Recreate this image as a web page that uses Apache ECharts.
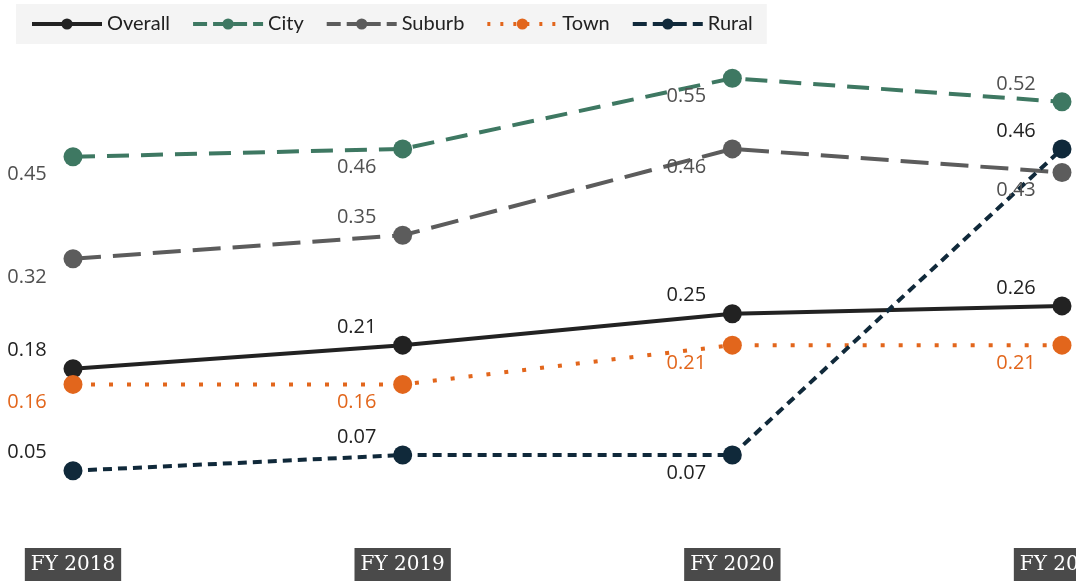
<!DOCTYPE html>
<html>
<head>
<meta charset="utf-8">
<script src="https://cdn.jsdelivr.net/npm/echarts@6/dist/echarts.min.js"></script>
<style>
  html, body { margin: 0; padding: 0; background: #fff; }
  #chart { width: 1076px; height: 582px; }
</style>
</head>
<body>
<div id="chart"></div>
<script>
// data
const years = ["FY 2018", "FY 2019", "FY 2020", "FY 2021"];
const overall = [0.18, 0.21, 0.25, 0.26];
const city = [0.45, 0.46, 0.55, 0.52];
const suburb = [0.32, 0.35, 0.46, 0.43];
const town = [0.16, 0.16, 0.21, 0.21];
const rural = [0.05, 0.07, 0.07, 0.46];

// label above (-1) or below (1) each point
const labelSide = {
  Overall: [-1, -1, -1, -1],
  City: [1, 1, 1, -1],
  Suburb: [1, -1, 1, 1],
  Town: [1, 1, 1, 1],
  Rural: [-1, -1, 1, -1]
};

const styles = {
  Overall: { color: "#222222", label: "#222222", dash: "solid" },
  City: { color: "#3e7862", label: "#505050", dash: [22, 12] },
  Suburb: { color: "#5c5c5c", label: "#505050", dash: [28, 12] },
  Town: { color: "#e2661c", label: "#e2661c", dash: [4, 14] },
  Rural: { color: "#10293a", label: "#222222", dash: [9, 6] }
};

const chart = echarts.init(document.getElementById("chart"));

const makeSeries = (name, values) => ({
  name: name,
  type: "line",
  data: values.map((v, i) => ({
    value: v,
    label: { offset: [-46, labelSide[name][i] * 18] }
  })),
  symbol: "circle",
  symbolSize: 19,
  itemStyle: { color: styles[name].color },
  lineStyle: { color: styles[name].color, width: 4, type: styles[name].dash },
  label: {
    show: true,
    position: "inside",
    color: styles[name].label,
    fontFamily: "Open Sans",
    fontSize: 20,
    formatter: p => p.value.toFixed(2)
  },
  emphasis: { disabled: true }
});

const names = ["Overall", "City", "Suburb", "Town", "Rural"];

const option = {
  animation: false,
  legend: {
    left: 16,
    top: 4,
    padding: [10, 14],
    backgroundColor: "#f4f4f4",
    itemWidth: 70,
    itemHeight: 14,
    itemGap: 21,
    textStyle: { fontFamily: "Lato", fontSize: 20, color: "#222" },
    data: names.map(n => ({
      name: n,
      lineStyle: { width: 4, type: n === "Town" ? [3, 10] : n === "Overall" ? "solid" : [14, 6] }
    }))
  },
  grid: { left: 73, right: 14, top: 39, bottom: 72, outerBoundsMode: "none", containLabel: false },
  xAxis: {
    type: "category",
    data: years,
    boundaryGap: false,
    axisLine: { show: false },
    axisTick: { show: false },
    axisLabel: {
      margin: 38,
      color: "#fff",
      backgroundColor: "#4a4a4a",
      padding: [7, 6, 6, 6],
      fontFamily: "DejaVu Serif",
      fontSize: 20,
      hideOverlap: false
    }
  },
  yAxis: {
    type: "value",
    min: 0,
    max: 0.6,
    show: false,
    splitLine: { show: false }
  },
  series: names.map((n, i) => makeSeries(n, [overall, city, suburb, town, rural][i]))
};

chart.setOption(option);
</script>
</body>
</html>
